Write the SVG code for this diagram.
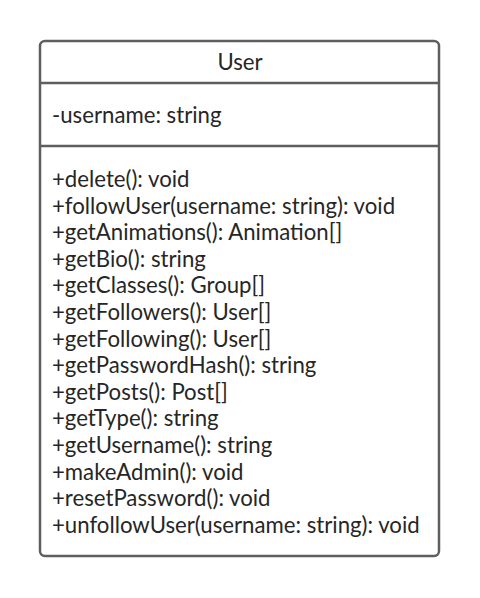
<svg xmlns="http://www.w3.org/2000/svg" width="480" height="598" viewBox="0 0 480 598">
<style>
.box{fill:#fff;stroke:#5e5e5e;stroke-width:2.5}
.div{stroke:#5e5e5e;stroke-width:2.5}
.t{font-family:Lato,"Liberation Sans",sans-serif;font-size:22.2px;fill:#262626}
</style>
<rect width="480" height="598" fill="#fff"/>
<g id="User">
<rect class="box" x="40" y="41" width="399" height="515" rx="5"/>
<line class="div" x1="40" y1="83" x2="439" y2="83"/>
<line class="div" x1="40" y1="146" x2="439" y2="146"/>
<text class="t" x="240" y="70" text-anchor="middle">User</text>
<text class="t" x="52" y="123">-username: string</text>
<text class="t" x="52" y="187">+delete(): void</text>
<text class="t" x="52" y="213.6">+followUser(username: string): void</text>
<text class="t" x="52" y="240.2">+getAnimations(): Animation[]</text>
<text class="t" x="52" y="266.8">+getBio(): string</text>
<text class="t" x="52" y="293.4">+getClasses(): Group[]</text>
<text class="t" x="52" y="320">+getFollowers(): User[]</text>
<text class="t" x="52" y="346.6">+getFollowing(): User[]</text>
<text class="t" x="52" y="373.2">+getPasswordHash(): string</text>
<text class="t" x="52" y="399.8">+getPosts(): Post[]</text>
<text class="t" x="52" y="426.4">+getType(): string</text>
<text class="t" x="52" y="453">+getUsername(): string</text>
<text class="t" x="52" y="479.6">+makeAdmin(): void</text>
<text class="t" x="52" y="506.2">+resetPassword(): void</text>
<text class="t" x="52" y="532.8">+unfollowUser(username: string): void</text>
</g>
<g id="connectors"/>
</svg>
